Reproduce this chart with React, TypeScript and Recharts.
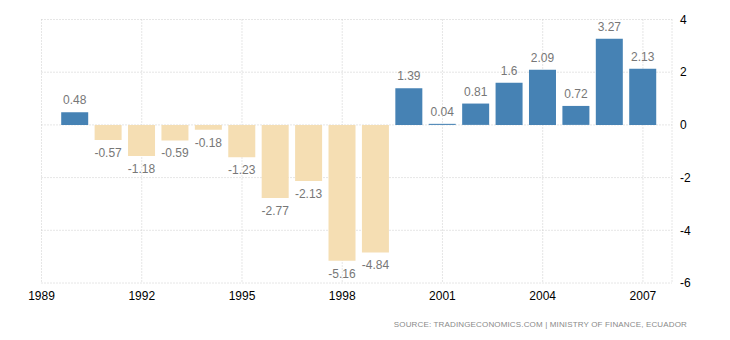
import { BarChart, Bar, XAxis, YAxis, CartesianGrid, Cell, LabelList } from "recharts";

const years = [1990, 1991, 1992, 1993, 1994, 1995, 1996, 1997, 1998, 1999, 2000, 2001, 2002, 2003, 2004, 2005, 2006, 2007];
const balance = [0.48, -0.57, -1.18, -0.59, -0.18, -1.23, -2.77, -2.13, -5.16, -4.84, 1.39, 0.04, 0.81, 1.6, 2.09, 0.72, 3.27, 2.13];
const xTicks = [1989, 1992, 1995, 1998, 2001, 2004, 2007];
const yTicks = [-6, -4, -2, 0, 2, 4];

const data = years.map((year, i) => ({ year, value: balance[i] }));

const font = "'Liberation Sans', Arial, sans-serif";

function BarValue(props: any) {
  const { x, y, width, height, value } = props;
  const cx = x + width / 2;
  const neg = value < 0;
  const top = Math.min(y, y + height);
  const bottom = Math.max(y, y + height);
  const ty = neg ? bottom + 13 : top - 12;
  return (
    <text x={cx} y={ty} textAnchor="middle" dominantBaseline="central" fill="#777" fontSize={12} fontFamily={font}>
      {value}
    </text>
  );
}

export default function App() {
  return (
    <div style={{ position: "absolute", left: 0, top: 0, width: 730, height: 340, background: "#fff" }}>
      <BarChart width={730} height={340} data={data} margin={{ top: 19.5, left: 41.5, right: 8, bottom: 27 }}>
        <CartesianGrid stroke="#cccccc" strokeDasharray="1 2" />
        <XAxis
          dataKey="year"
          type="number"
          domain={[1989, 2007.87]}
          ticks={xTicks}
          allowDataOverflow
          axisLine={false}
          tickLine={false}
          height={30}
          tick={{ fill: "#000", fontSize: 12, fontFamily: font }}
        />
        <YAxis
          orientation="right"
          domain={[-6, 4]}
          ticks={yTicks}
          axisLine={false}
          tickLine={false}
          width={50}
          tick={{ fill: "#000", fontSize: 12, fontFamily: font, textAnchor: "start" }}
        />
        <Bar dataKey="value" barSize={27} isAnimationActive={false}>
          {data.map((d) => (
            <Cell key={d.year} fill={d.value < 0 ? "#f5deb3" : "#4682b4"} />
          ))}
          <LabelList dataKey="value" content={<BarValue />} />
        </Bar>
      </BarChart>
      <div
        style={{
          position: "absolute",
          right: 43,
          top: 320,
          fontSize: 8,
          letterSpacing: 0.15,
          color: "#8a8a8a",
          fontFamily: font,
          whiteSpace: "nowrap",
        }}
      >
        SOURCE: TRADINGECONOMICS.COM | MINISTRY OF FINANCE, ECUADOR
      </div>
    </div>
  );
}
